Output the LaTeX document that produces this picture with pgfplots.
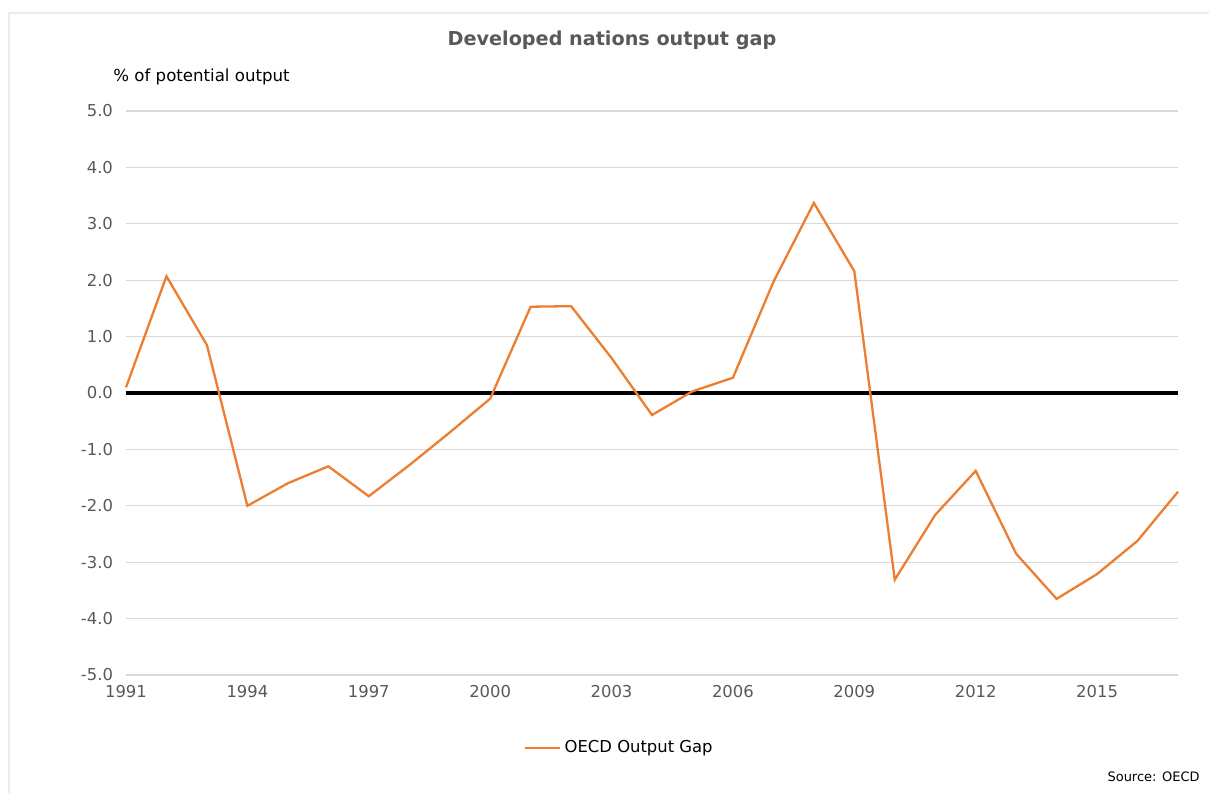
\documentclass[border=0pt]{standalone}
\usepackage{pgfplots}
\pgfplotsset{compat=1.18}
\usepackage{fontspec}
\setmainfont{DejaVu Sans}
\definecolor{oecd}{HTML}{ED7D31}
\definecolor{txtgray}{HTML}{595959}
\definecolor{gridgray}{HTML}{D9D9D9}
\definecolor{framegray}{HTML}{EBEBEB}
\begin{document}
\begin{tikzpicture}
\path[use as bounding box] (0,0) rectangle (604.5pt,-397pt);
\draw[framegray, line width=0.6pt] (4.5pt,-396.5pt) -- (4.5pt,-6.5pt) -- (604.5pt,-6.5pt);
\node[font=\bfseries\fontsize{9.6}{11}\selectfont, text=txtgray] at (306pt,-20pt) {Developed nations output gap};
\node[anchor=west, font=\fontsize{8.3}{10}\selectfont, inner sep=0pt] at (56.5pt,-38.5pt) {\% of potential output};
\node[anchor=east, font=\fontsize{6.5}{8}\selectfont, inner sep=0pt] at (600pt,-388.5pt) {Source: OECD};
\begin{axis}[
  at={(63pt,-337.5pt)}, anchor=south west,
  scale only axis, width=526pt, height=282pt,
  xmin=1991, xmax=2017, ymin=-5, ymax=5,
  xtick={1991,1994,1997,2000,2003,2006,2009,2012,2015},
  ytick={-5,-4,-3,-2,-1,0,1,2,3,4,5},
  /pgf/number format/assume math mode=true,
  ticklabel style={font=\fontsize{8.2}{10}\selectfont, text=txtgray},
  xticklabel={\pgfmathprintnumber[1000 sep={},precision=0,fixed]{\tick}},
  yticklabel={\pgfmathprintnumber[fixed,fixed zerofill,precision=1]{\tick}},
  major tick length=0pt,
  axis line style={draw=none},
  ymajorgrids, grid style={gridgray, line width=0.6pt},
  xtick pos=bottom, ytick pos=left,
  xticklabel shift=1.5pt, yticklabel shift=3pt,
  legend style={at={(0.47,-0.129)}, anchor=center, draw=none, fill=none,
    font=\fontsize{8.2}{10}\selectfont, inner sep=0pt},
  legend cell align=left,
  clip=false,
]
\addplot[black, line width=1.6pt, forget plot] coordinates {(1991,0) (2017,0)};
\addplot[oecd, line width=1.15pt] coordinates {
(1991,0.10) (1992,2.07) (1993,0.85) (1994,-2.00) (1995,-1.60) (1996,-1.30)
(1997,-1.83) (1998,-1.28) (1999,-0.70) (2000,-0.10) (2001,1.53) (2002,1.54)
(2003,0.62) (2004,-0.39) (2005,0.03) (2006,0.27) (2007,1.97) (2008,3.37)
(2009,2.16) (2010,-3.31) (2011,-2.16) (2012,-1.38) (2013,-2.85) (2014,-3.65)
(2015,-3.21) (2016,-2.62) (2017,-1.75)};
\addlegendentry{OECD Output Gap}
\end{axis}
\end{tikzpicture}
\end{document}
